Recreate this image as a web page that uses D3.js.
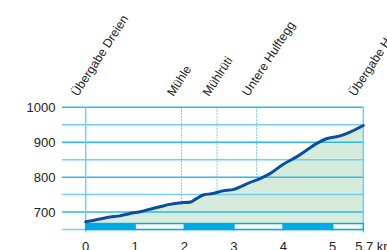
<!DOCTYPE html>
<html><head><meta charset="utf-8">
<script src="https://cdn.jsdelivr.net/npm/d3@7"></script>
<style>html,body{margin:0;padding:0;background:#fff;overflow:hidden}svg{display:block}</style>
</head><body>
<svg id="c" width="387" height="250"></svg>
<script>
const distances = [0,0.29,0.49,0.69,0.9,1.1,1.3,1.5,1.7,1.9,2.13,2.25,2.38,2.58,2.75,3.0,3.33,3.53,3.73,4.0,4.27,4.47,4.67,4.87,5.15,5.35,5.62];
const elevations = [672,680,686,689,696,701,708,715,722,726,729,739,749,753,760,765,785,796,810,837,858,877,896,910,918,929,948];
const waypointNames = ["Übergabe Dreien","Mühle","Mühlrüti","Untere Hulftegg","Übergabe Hulftegg"];
const waypointKm = [0,1.94,2.66,3.46,5.62];
const yTicks = [700,800,900,1000];
const yMinorTicks = [650,750,850,950];
const xTicks = [0,1,2,3,4,5];
const xTickLabels = ["0","1","2","3","4","5"];
const endLabel = "5.7 km";
const barSegments = [[0,1],[1,2],[2,3],[3,4],[4,5],[5,5.62]];

const svg = d3.select("#c");
const x = d3.scaleLinear().domain([0,5.62]).range([85.7,363.3]);
const y = d3.scaleLinear().domain([650,1000]).range([229.5,107.3]);
const font = "Liberation Sans, Arial, sans-serif";
const gridX0 = 62, gridX1 = x(5.62);

// area
const pts = distances.map((d,i)=>[d,elevations[i]]);
svg.append("path")
  .attr("d", d3.area().x(d=>x(d[0])).y0(y(667)).y1(d=>y(d[1])).curve(d3.curveMonotoneX)(pts))
  .attr("fill","#d5ebdc");

// gridlines
svg.selectAll("line.minor").data(yMinorTicks).join("line")
  .attr("x1",gridX0).attr("x2",gridX1).attr("y1",d=>y(d)).attr("y2",d=>y(d))
  .attr("stroke","#74cff2").attr("stroke-width",1.5);
svg.selectAll("line.major").data(yTicks).join("line")
  .attr("x1",gridX0).attr("x2",gridX1).attr("y1",d=>y(d)).attr("y2",d=>y(d))
  .attr("stroke","#2db7ea").attr("stroke-width",1.5);

// boundary verticals
[0,5.62].forEach(k=>{
  svg.append("line").attr("x1",x(k)).attr("x2",x(k)).attr("y1",y(1000)).attr("y2",232.5)
    .attr("stroke","#6fd0f4").attr("stroke-width",1.5);
});

// waypoint dotted lines
const interp = d3.scaleLinear().domain(distances).range(elevations);
waypointKm.slice(1,4).forEach(k=>{
  svg.append("line").attr("x1",x(k)).attr("x2",x(k)).attr("y1",y(1000)).attr("y2",y(interp(k))+2)
    .attr("stroke","#4cc3f0").attr("stroke-width",1).attr("stroke-dasharray","1.5,1.5");
});

// km bar
svg.selectAll("rect.bar").data(barSegments).join("rect")
  .attr("x",d=>x(d[0])).attr("width",d=>x(d[1])-x(d[0]))
  .attr("y",y(667)).attr("height",y(650)-y(667))
  .attr("fill",(d,i)=>i%2===0?"#00a9e8":"#ffffff")
  .attr("stroke","#00a9e8").attr("stroke-width",1.5);

// profile line
svg.append("path")
  .attr("d", d3.line().x(d=>x(d[0])).y(d=>y(d[1])).curve(d3.curveMonotoneX)(pts))
  .attr("fill","none").attr("stroke","#0b4d9f").attr("stroke-width",3).attr("stroke-linecap","round");

// y labels
svg.selectAll("text.yl").data(yTicks).join("text")
  .attr("x",55.5).attr("y",d=>y(d)).attr("dy","0.36em").attr("text-anchor","end")
  .attr("font-family",font).attr("font-size",13).attr("fill","#222").text(d=>d);

// x labels
svg.selectAll("text.xl").data(xTicks).join("text")
  .attr("x",d=>x(d)).attr("y",250.5).attr("text-anchor","middle")
  .attr("font-family",font).attr("font-size",13).attr("fill","#222").text((d,i)=>xTickLabels[i]);
svg.append("text").attr("x",x(5.62)-1).attr("y",250.5).attr("text-anchor","start")
  .attr("dx","-0.55em")
  .attr("font-family",font).attr("font-size",13).attr("fill","#222").text(endLabel);

// waypoint labels
waypointNames.forEach((n,i)=>{
  const px = x(waypointKm[i]) - 8, py = 97;
  svg.append("text").attr("transform",`translate(${px},${py}) rotate(-57)`)
    .attr("font-family",font).attr("font-size",12.3).attr("fill","#222").text(n);
});
</script>
</body></html>
